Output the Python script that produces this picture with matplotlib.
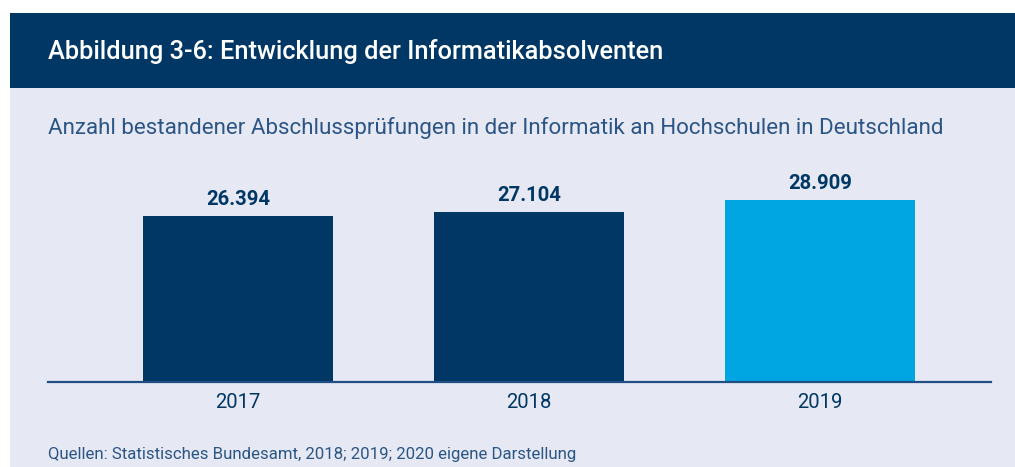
import matplotlib.pyplot as plt
from matplotlib.patches import Rectangle

plt.rcParams['font.family'] = ['Roboto', 'DejaVu Sans']

# data
years = ['2017', '2018', '2019']
graduates = [26394, 27104, 28909]
value_labels = ['26.394', '27.104', '28.909']
bar_colors = ['#003764', '#003764', '#00A6E2']

title = 'Abbildung 3-6: Entwicklung der Informatikabsolventen'
subtitle = 'Anzahl bestandener Abschlussprüfungen in der Informatik an Hochschulen in Deutschland'
source = 'Quellen: Statistisches Bundesamt, 2018; 2019; 2020 eigene Darstellung'

W, H = 1015, 467
fig = plt.figure(figsize=(W / 100, H / 100), dpi=100)
fig.patch.set_facecolor('white')

navy = '#003764'
bg = '#E6E9F3'
text_blue = '#2B5585'

# light panel and dark header band (pixel coords converted to figure fraction)
fig.patches.append(Rectangle((10 / W, 0), 1 - 10 / W, 1 - 13 / H, transform=fig.transFigure,
                             facecolor=bg, edgecolor='none', zorder=0))
fig.patches.append(Rectangle((10 / W, 1 - 88 / H), 1 - 10 / W, 75 / H, transform=fig.transFigure,
                             facecolor=navy, edgecolor='none', zorder=1))

fig.text(48 / W, 1 - 51 / H, title, color='white', fontsize=18.3, fontweight='medium',
         va='center', ha='left')
fig.text(48 / W, 1 - 128 / H, subtitle, color=text_blue, fontsize=16.1,
         va='center', ha='left')
fig.text(48 / W, 1 - 455 / H, source, color=text_blue, fontsize=12.1,
         va='center', ha='left')

# axes: x from 48 to 991 px, baseline at 382 px
ax = fig.add_axes([48 / W, 1 - 382 / H, (991 - 48) / W, (382 - 150) / H])
ax.set_zorder(5)
ax.set_facecolor('none')
x = range(len(years))
bars = ax.bar(x, graduates, width=0.653, color=bar_colors, zorder=2)
ax.set_xlim(-0.653, 2.588)
ax.set_ylim(0, 36900)

for b, lab in zip(bars, value_labels):
    ax.annotate(lab, (b.get_x() + b.get_width() / 2, b.get_height()), xytext=(0, 5),
                textcoords='offset points', ha='center', va='bottom',
                fontsize=14.6, fontweight='bold', color=navy)

for s in ['top', 'right', 'left']:
    ax.spines[s].set_visible(False)
ax.spines['bottom'].set_color('#1F4E85')
ax.spines['bottom'].set_linewidth(1.6)
ax.spines['bottom'].set_zorder(3)
ax.set_yticks([])
ax.set_xticks(list(x))
ax.set_xticklabels(years, fontsize=14.6, color=navy)
ax.tick_params(axis='x', length=0, pad=8)

fig.savefig('out.png', dpi=100)
